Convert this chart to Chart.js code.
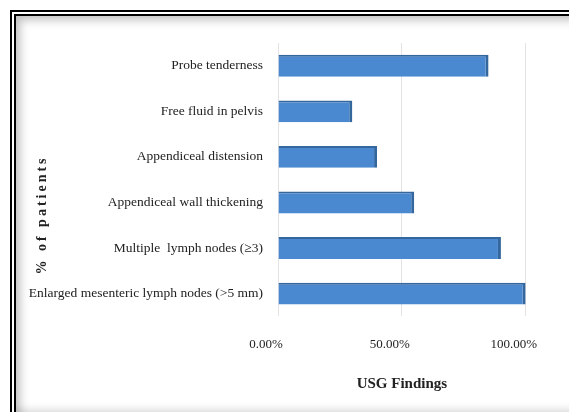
<!DOCTYPE html>
<html>
<head>
<meta charset="utf-8">
<script src="https://cdn.jsdelivr.net/npm/chart.js@4.4.1/dist/chart.umd.min.js"></script>
<style>
  html, body { margin:0; padding:0; background:#fff; width:569px; height:412px; overflow:hidden; }
  .frame { position:absolute; left:10px; top:10px; width:600px; height:396px;
    border-left:6px double #000; border-top:6px double #000;
    box-shadow: inset 10px 10px 10px -6px rgba(0,0,0,0.25), inset 0 -8px 8px -6px rgba(0,0,0,0.16); }
  #c { position:absolute; left:0; top:0; }
</style>
</head>
<body>
<div class="frame"></div>
<canvas id="c" width="569" height="412"></canvas>
<script>
const categories = [
  "Probe tenderness",
  "Free fluid in pelvis",
  "Appendiceal distension",
  "Appendiceal wall thickening",
  "Multiple  lymph nodes (≥3)",
  "Enlarged mesenteric lymph nodes (>5 mm)"
];
const percentPatients = [85, 30, 40, 55, 90, 100];
const xTickValues = [0, 50, 100];
const xTickLabels = ["0.00%", "50.00%", "100.00%"];
const xAxisTitle = "USG Findings";
const yAxisTitle = "% of patients";

const serif = "'Liberation Serif', 'DejaVu Serif', serif";

const yTitlePlugin = {
  id: 'yTitle',
  afterDraw(chart) {
    const ctx = chart.ctx;
    ctx.save();
    ctx.translate(42, 215);
    ctx.rotate(-Math.PI / 2);
    ctx.font = "bold 14px " + serif;
    try { ctx.letterSpacing = "3px"; } catch (e) {}
    ctx.fillStyle = "#222";
    ctx.textAlign = "center";
    ctx.textBaseline = "middle";
    ctx.fillText(yAxisTitle, 0, 0);
    ctx.restore();
  }
};

new Chart(document.getElementById('c'), {
  type: 'bar',
  data: {
    labels: categories,
    datasets: [{
      data: percentPatients,
      backgroundColor: '#4a88cf',
      borderColor: '#35679f',
      borderWidth: { top: 2, right: 3, bottom: 0, left: 0 },
      borderSkipped: false,
      categoryPercentage: 1,
      barPercentage: 0.48
    }]
  },
  options: {
    indexAxis: 'y',
    responsive: false,
    animation: false,
    layout: { padding: { top: 43, right: 40, bottom: 19, left: 20 } },
    plugins: { legend: { display: false }, tooltip: { enabled: false } },
    scales: {
      x: {
        min: 0, max: 100,
        afterBuildTicks(scale) { scale.ticks = xTickValues.map(v => ({ value: v })); },
        grid: { color: '#e3e3e3', drawTicks: false },
        border: { display: false },
        ticks: {
          padding: 20,
          labelOffset: -12,
          color: '#222',
          font: { family: serif, size: 13 },
          callback: (v, i) => xTickLabels[i]
        },
        title: {
          display: true, text: xAxisTitle, color: '#222',
          font: { family: serif, size: 15, weight: 'bold' },
          padding: { top: 3, bottom: 0 }
        }
      },
      y: {
        afterFit(scale) { scale.width = 278 - 20; },
        grid: { display: false },
        border: { display: false },
        ticks: {
          padding: 7,
          color: '#222',
          font: { family: serif, size: 13.5 }
        }
      }
    }
  },
  plugins: [yTitlePlugin]
});
</script>
</body>
</html>
